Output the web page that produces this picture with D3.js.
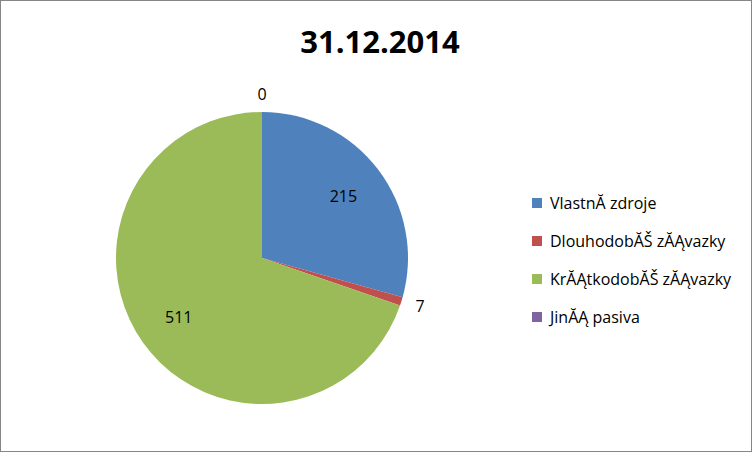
<!DOCTYPE html><html><head><script src="https://cdn.jsdelivr.net/npm/d3@7"></script>
<style>body{margin:0}svg{display:block}</style></head><body><script>
const categories=["Vlastní zdroje","Dlouhodobé závazky","Krátkodobé závazky","Jiná pasiva"];
const values=[215,7,511,0];
const colors=["#4f81bd","#c0504d","#9bbb59","#8064a2"];
const W=752,H=452,cx=262,cy=258,r=146;
const svg=d3.select("body").append("svg").attr("width",W).attr("height",H);
svg.append("rect").attr("x",0.5).attr("y",0.5).attr("width",W-1).attr("height",H-1).attr("fill","#fff").attr("stroke","#868686");
svg.append("text").attr("x",380).attr("y",53).attr("text-anchor","middle").attr("font-family","Open Sans, sans-serif").attr("font-weight","bold").attr("font-size",31).text("31.12.2014");
const pie=d3.pie().sort(null).value(d=>d)(values);
const arc=d3.arc().innerRadius(0).outerRadius(r);
const g=svg.append("g").attr("transform",`translate(${cx},${cy})`);
g.selectAll("path").data(pie).join("path").attr("d",arc).attr("fill",(d,i)=>colors[i]);
const labelPos=[[0.7,"middle"],[1.12,"middle"],[0.7,"middle"],[1.12,"middle"]];
const la=d3.arc();
g.selectAll("text").data(pie).join("text").each(function(d,i){
  const mid=(d.startAngle+d.endAngle)/2, rr=r*labelPos[i][0];
  let x=Math.sin(mid)*rr,y=-Math.cos(mid)*rr;
  if(i===1){x+=2;y+=0;}
  d3.select(this).attr("x",x).attr("y",y).attr("dy","0.35em");
}).attr("text-anchor","middle").attr("font-family","Open Sans, sans-serif").attr("font-size",16).text(d=>d.data);
const lg=svg.append("g").attr("font-family","Open Sans, sans-serif").attr("font-size",16);
categories.forEach((c,i)=>{
  const y=203+i*38;
  lg.append("rect").attr("x",532).attr("y",y-5).attr("width",10).attr("height",10).attr("fill",colors[i]);
  lg.append("text").attr("x",550).attr("y",y).attr("dy","0.35em").text(c);
});
</script></body></html>
